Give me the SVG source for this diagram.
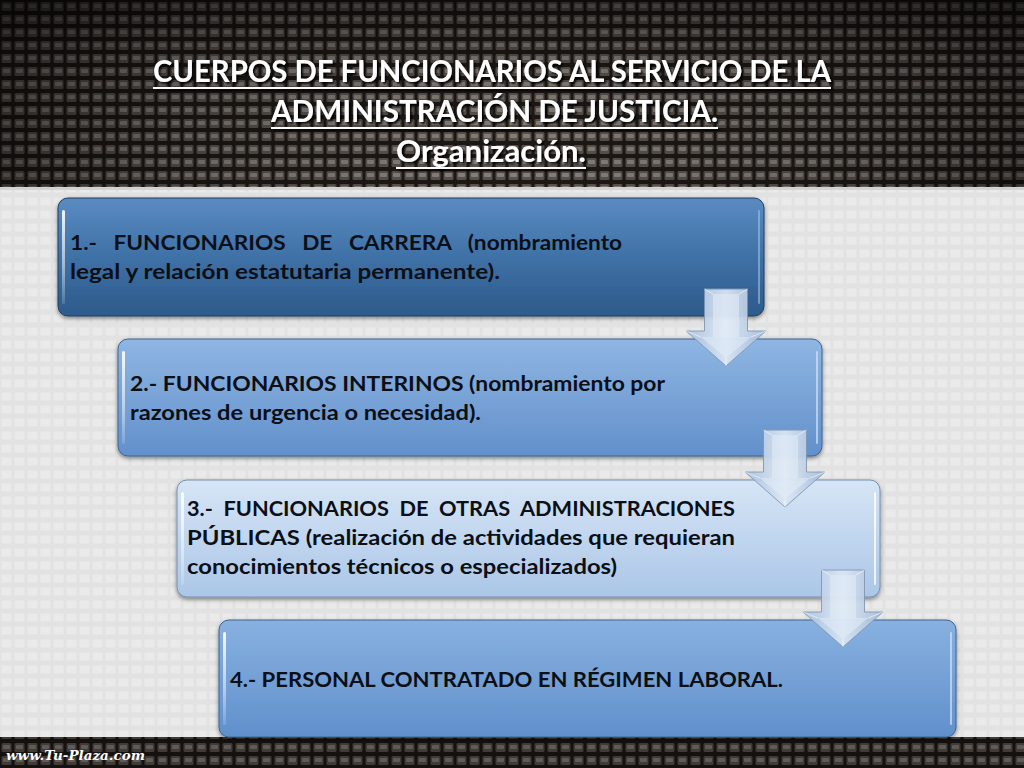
<svg xmlns="http://www.w3.org/2000/svg" width="1024" height="768" viewBox="0 0 1024 768">
  <defs>
    <style>
      .title { font-family: Lato, "Open Sans", "Liberation Sans", sans-serif; font-weight: 700; font-size: 31px; fill: #ffffff; }
      .ul { stroke: #ffffff; stroke-width: 2; }
      .lbl { font-family: Lato, "Open Sans", "Liberation Sans", sans-serif; font-weight: 700; font-size: 21px; fill: #0b0f16; white-space: pre; }
      .hl { fill: url(#hlGrad); }
      .arrowOuter { fill: url(#arrowGrad); stroke: #8298b6; stroke-width: 1; opacity: 0.92; }
      .arrowInner { fill: #e4edf8; opacity: 0.55; }
      .bevel { stroke: #ffffff; stroke-width: 0.8; opacity: 0.7; fill: none; }
    </style>
    <pattern id="weave" x="0" y="0" width="13" height="13" patternUnits="userSpaceOnUse">
      <rect width="13" height="13" fill="#1e1915"/>
      <rect x="1.5" y="2" width="10" height="9" rx="1.5" fill="#5c5550"/>
      <rect x="3" y="4" width="7" height="4" rx="1" fill="#8a837d"/>
    </pattern>
    <pattern id="lightWeave" x="0" y="0" width="13" height="13" patternUnits="userSpaceOnUse">
      <rect width="13" height="13" fill="#e2e2e2"/>
      <rect x="1.5" y="2.5" width="10" height="8" fill="#eaeaea"/>
    </pattern>
    <radialGradient id="vignette" cx="512" cy="130" r="620" gradientUnits="userSpaceOnUse">
      <stop offset="0" stop-color="#000" stop-opacity="0"/>
      <stop offset="0.5" stop-color="#000" stop-opacity="0.2"/>
      <stop offset="1" stop-color="#000" stop-opacity="0.6"/>
    </radialGradient>
    <linearGradient id="topFade" x1="0" y1="0" x2="0" y2="1">
      <stop offset="0" stop-color="#000" stop-opacity="0.5"/>
      <stop offset="0.35" stop-color="#000" stop-opacity="0.1"/>
      <stop offset="1" stop-color="#000" stop-opacity="0"/>
    </linearGradient>
    <linearGradient id="g1" x1="0" y1="0" x2="0" y2="1">
      <stop offset="0" stop-color="#5a8bc2"/>
      <stop offset="0.5" stop-color="#3f71a6"/>
      <stop offset="1" stop-color="#2d5a8a"/>
    </linearGradient>
    <linearGradient id="g2" x1="0" y1="0" x2="0" y2="1">
      <stop offset="0" stop-color="#8fb6e3"/>
      <stop offset="1" stop-color="#6290cb"/>
    </linearGradient>
    <linearGradient id="g3" x1="0" y1="0" x2="0" y2="1">
      <stop offset="0" stop-color="#d6e5f6"/>
      <stop offset="1" stop-color="#abc6e7"/>
    </linearGradient>
    <linearGradient id="g4" x1="0" y1="0" x2="0" y2="1">
      <stop offset="0" stop-color="#88b1e0"/>
      <stop offset="1" stop-color="#6090cc"/>
    </linearGradient>
    <linearGradient id="hlGrad" x1="0" y1="0" x2="0" y2="1">
      <stop offset="0" stop-color="#ffffff" stop-opacity="0.9"/>
      <stop offset="0.6" stop-color="#ffffff" stop-opacity="0.5"/>
      <stop offset="1" stop-color="#ffffff" stop-opacity="0.15"/>
    </linearGradient>
    <linearGradient id="arrowGrad" x1="0" y1="0" x2="1" y2="0">
      <stop offset="0" stop-color="#a9c1de"/>
      <stop offset="0.5" stop-color="#dde8f5"/>
      <stop offset="1" stop-color="#a2bada"/>
    </linearGradient>
    <filter id="shadow" x="-5%" y="-10%" width="110%" height="130%">
      <feDropShadow dx="0" dy="2" stdDeviation="2" flood-color="#000" flood-opacity="0.45"/>
    </filter>
    <filter id="txtShadow" x="-5%" y="-20%" width="110%" height="150%">
      <feDropShadow dx="2" dy="2" stdDeviation="1.2" flood-color="#000" flood-opacity="0.9"/>
    </filter>
    <g id="arrowShape">
      <polygon class="arrowOuter" points="-21.5,0 21.5,0 21.5,42 40,42 0,77 -40,42 -21.5,42"/>
      <polygon class="arrowInner" points="-13,5 13,5 13,48 25,48 0,69 -25,48 -13,48"/>
      <path class="bevel" d="M-21.5,0 L-13,5 M21.5,0 L13,5 M-40,42 L-25,48 M40,42 L25,48 M0,77 L0,69"/>
    </g>
  </defs>

  <g id="background">
    <rect x="0" y="0" width="1024" height="768" fill="url(#lightWeave)"/>
    <rect x="0" y="0" width="1024" height="188" fill="url(#weave)"/>
    <rect x="0" y="0" width="1024" height="188" fill="url(#vignette)"/>
    <rect x="0" y="0" width="1024" height="188" fill="url(#topFade)"/>
    <rect x="0" y="187" width="1024" height="3" fill="#d2d2d2"/>
    <rect x="0" y="737" width="1024" height="31" fill="url(#weave)"/>
    <rect x="0" y="737" width="1024" height="31" fill="#000" opacity="0.3"/>
    <text x="6" y="760" textLength="139" lengthAdjust="spacingAndGlyphs" font-family="'DejaVu Serif', 'Liberation Serif', serif" font-weight="700" font-style="italic" font-size="13" fill="#ffffff">www.Tu-Plaza.com</text>
  </g>

  <g id="title" filter="url(#txtShadow)">
    <text class="title" x="153" y="82" textLength="678" lengthAdjust="spacingAndGlyphs">CUERPOS DE FUNCIONARIOS AL SERVICIO DE LA</text>
    <line class="ul" x1="153" y1="88" x2="831" y2="88"/>
    <text class="title" x="271" y="122" textLength="447" lengthAdjust="spacingAndGlyphs">ADMINISTRACIÓN DE JUSTICIA.</text>
    <line class="ul" x1="271" y1="128" x2="718" y2="128"/>
    <text class="title" x="396" y="162" textLength="190" lengthAdjust="spacingAndGlyphs">Organización.</text>
    <line class="ul" x1="396" y1="168" x2="586" y2="168"/>
  </g>

  <g id="node1">
    <rect x="58" y="198" width="706" height="118" rx="10" fill="url(#g1)" stroke="#1f3e62" stroke-width="1" filter="url(#shadow)"/>
    <rect class="hl" x="62" y="210" width="3" height="94" rx="1.5"/>
    <rect x="758" y="210" width="2" height="94" rx="1" fill="#9fc0e6" opacity="0.6"/>
    <text class="lbl" x="70" y="250" textLength="552" lengthAdjust="spacingAndGlyphs">1.-   FUNCIONARIOS   DE   CARRERA   (nombramiento</text>
    <text class="lbl" x="70" y="279" textLength="430" lengthAdjust="spacingAndGlyphs">legal y relación estatutaria permanente).</text>
  </g>

  <g id="node2">
    <rect x="118" y="339" width="704" height="117" rx="10" fill="url(#g2)" stroke="#3d6590" stroke-width="1" filter="url(#shadow)"/>
    <rect class="hl" x="122" y="351" width="3" height="93" rx="1.5"/>
    <rect x="816" y="351" width="2" height="93" rx="1" fill="#d0e2f6" opacity="0.7"/>
    <text class="lbl" x="130" y="391" textLength="535" lengthAdjust="spacingAndGlyphs">2.- FUNCIONARIOS INTERINOS (nombramiento por</text>
    <text class="lbl" x="130" y="420" textLength="351" lengthAdjust="spacingAndGlyphs">razones de urgencia o necesidad).</text>
  </g>

  <g id="node3">
    <rect x="177" y="480" width="703" height="117" rx="10" fill="url(#g3)" stroke="#7890ae" stroke-width="1" filter="url(#shadow)"/>
    <rect class="hl" x="181" y="492" width="3" height="93" rx="1.5"/>
    <rect x="874" y="492" width="2" height="93" rx="1" fill="#ffffff" opacity="0.8"/>
    <text class="lbl" x="187" y="516" textLength="548" lengthAdjust="spacingAndGlyphs">3.-  FUNCIONARIOS  DE  OTRAS  ADMINISTRACIONES</text>
    <text class="lbl" x="187" y="545" textLength="548" lengthAdjust="spacingAndGlyphs">PÚBLICAS (realización de actividades que requieran</text>
    <text class="lbl" x="187" y="574" textLength="430" lengthAdjust="spacingAndGlyphs">conocimientos técnicos o especializados)</text>
  </g>

  <g id="node4">
    <rect x="219" y="620" width="737" height="117" rx="10" fill="url(#g4)" stroke="#3d6590" stroke-width="1" filter="url(#shadow)"/>
    <rect class="hl" x="223" y="632" width="3" height="93" rx="1.5"/>
    <rect x="950" y="632" width="2" height="93" rx="1" fill="#d0e2f6" opacity="0.7"/>
    <text class="lbl" x="230" y="687" textLength="553" lengthAdjust="spacingAndGlyphs">4.- PERSONAL CONTRATADO EN RÉGIMEN LABORAL.</text>
  </g>

  <g id="connectors">
    <use href="#arrowShape" transform="translate(726,289)"/>
    <use href="#arrowShape" transform="translate(785,430)"/>
    <use href="#arrowShape" transform="translate(843,570)"/>
  </g>
</svg>
